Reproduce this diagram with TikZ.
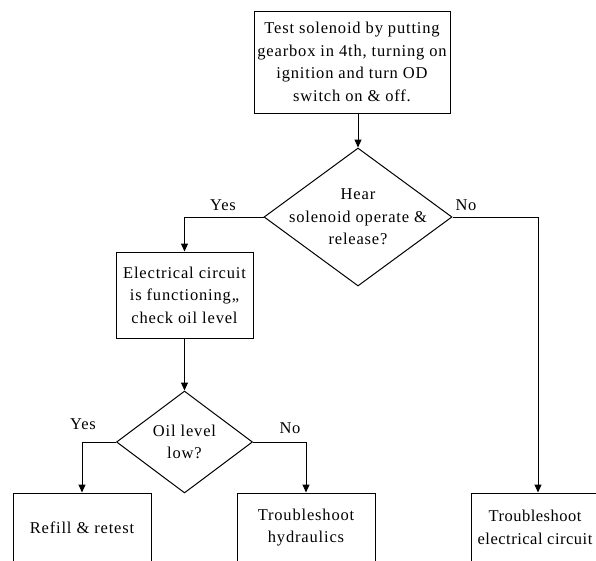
\documentclass[tikz,border=0pt]{standalone}
\usepackage{fontspec}
\setmainfont{Liberation Serif}[LetterSpace=5]
\usetikzlibrary{shapes.geometric,arrows.meta}
\tikzset{
  txt/.style={font=\fontsize{16.5}{22.5}\selectfont, align=center, inner sep=0pt},
  stepbox/.style={draw, line width=1pt, rectangle, inner sep=0pt, font=\fontsize{16.5}{22.5}\selectfont, align=center},
  decision/.style={draw, line width=1pt, diamond, inner sep=0pt},
  conn/.style={line width=1pt, -{Triangle[length=8pt,width=7pt]}},
  lbl/.style={font=\fontsize{16.5}{22.5}\selectfont, inner sep=0pt}
}
\begin{document}
\begin{tikzpicture}[x=1pt,y=-1pt]
\useasboundingbox (0,0) rectangle (596,560);
\clip (0,0) rectangle (596,560);
\node[stepbox, minimum width=196, minimum height=102] (top) at (352,62)
  {Test solenoid by putting\\gearbox in 4th, turning on\\ignition and turn OD\\switch on \& off.};
\node[decision, minimum width=188, minimum height=138,
  label={[txt]center:Hear\\solenoid operate \&\\release?}] (d1) at (358,217) {};
\node[stepbox, minimum width=137, minimum height=86] (elec) at (184.5,295)
  {Electrical circuit\\is functioning,,\\check oil level};
\node[decision, minimum width=136, minimum height=102,
  label={[txt]center:Oil level\\low?}] (d2) at (184.5,442) {};
\node[stepbox, minimum width=138, minimum height=69] (refill) at (82,527.5) {Refill \& retest};
\node[stepbox, minimum width=138, minimum height=69] (hyd) at (306,527.5) {Troubleshoot\\hydraulics};
\node[stepbox, minimum width=128, minimum height=69,
  font=\fontsize{16.5}{22.5}\selectfont\addfontfeature{LetterSpace=3}] (telec) at (535,527.5) {Troubleshoot\\electrical circuit};
\coordinate (topout) at (d1.north |- top.south);
\coordinate (telin) at ([xshift=3pt]telec.north);
\draw[conn] (topout) -- (d1.north);
\draw[conn] (d1.east) -| (telin);
\draw[conn] (d1.west) -| (elec.north);
\draw[conn] (elec.south) -- (d2.north);
\draw[conn] (d2.west) -| (refill.north);
\draw[conn] (d2.east) -| (hyd.north);
\node[lbl] (y1) at (223,205) {Yes};
\node[lbl] (n1) at (466,205) {No};
\node[lbl] (y2) at (83,424) {Yes};
\node[lbl] (n2) at (290,428) {No};
\end{tikzpicture}
\end{document}
